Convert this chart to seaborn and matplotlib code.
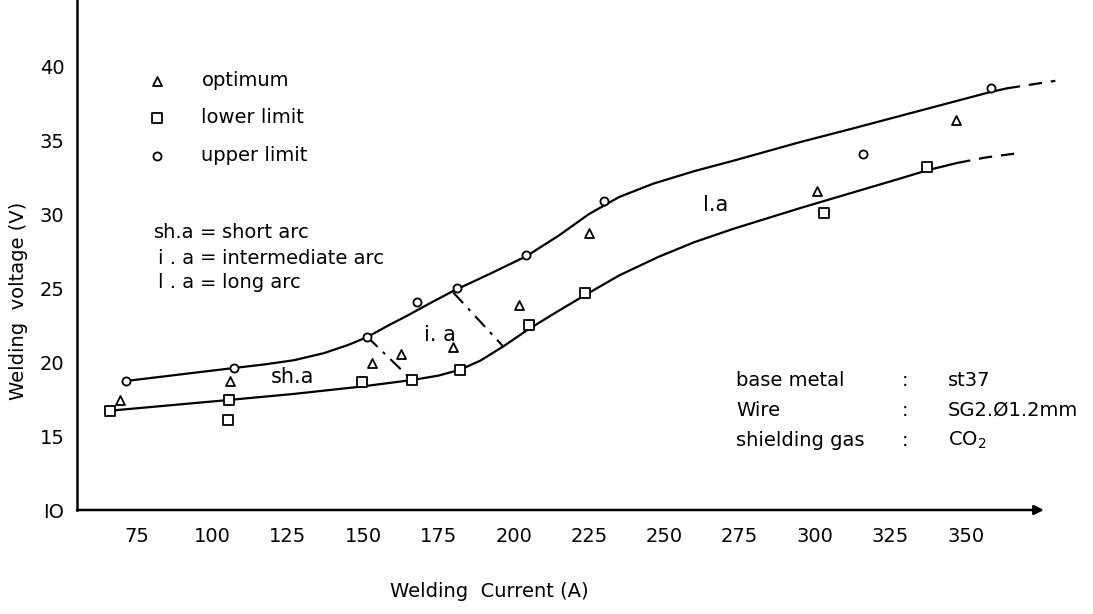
import matplotlib
matplotlib.use("Agg")
import matplotlib.pyplot as plt
import seaborn as sns

# ---- data ----
opt_A = [69.4, 105.9, 152.9, 162.6, 179.8, 201.9, 224.9, 300.7, 346.8]
opt_V = [17.43, 18.72, 19.91, 20.54, 21.0, 23.85, 28.7, 31.57, 36.35]

low_A = [66.0, 105.3, 105.1, 149.6, 166.2, 182.2, 204.9, 223.5, 302.9, 337.2]
low_V = [16.71, 17.43, 16.08, 18.63, 18.78, 19.46, 22.5, 24.64, 30.05, 33.15]

up_A = [71.3, 107.0, 151.3, 167.9, 181.1, 204.2, 229.8, 316.0, 358.4]
up_V = [18.72, 19.61, 21.71, 24.03, 24.98, 27.23, 30.9, 34.03, 38.53]

upper_curve_A = [71.35, 106.9, 117.0, 127.0, 137.0, 145.0, 151.4, 158.0, 165.0,
                 172.0, 179.9, 192.0, 204.2, 215.0, 225.0, 235.0, 246.3, 260.0,
                 272.9, 295.1, 310.7, 358.2, 363.7]
upper_curve_V = [18.72, 19.59, 19.83, 20.12, 20.6, 21.15, 21.69, 22.43, 23.17,
                 23.95, 24.8, 25.95, 27.15, 28.55, 30.0, 31.15, 32.05, 32.9,
                 33.6, 34.86, 35.68, 38.24, 38.49]
upper_ext_A = [363.7, 379.8]
upper_ext_V = [38.49, 39.0]

lower_curve_A = [66.0, 105.2, 126.8, 149.0, 166.2, 175.0, 182.2, 189.0, 196.5,
                 204.8, 214.0, 223.5, 235.0, 248.0, 260.0, 272.9, 295.1, 328.3,
                 337.2, 347.2]
lower_curve_V = [16.71, 17.43, 17.84, 18.33, 18.78, 19.08, 19.48, 20.1, 21.05,
                 22.2, 23.35, 24.5, 25.85, 27.1, 28.1, 29.0, 30.4, 32.4,
                 32.95, 33.45]
lower_ext_A = [347.2, 357.0, 367.1]
lower_ext_V = [33.45, 33.83, 34.1]

bound1_A = [151.3, 166.2]
bound1_V = [21.71, 18.78]
bound2_A = [179.9, 196.5]
bound2_V = [24.7, 21.05]

x_ticks = [75, 100, 125, 150, 175, 200, 225, 250, 275, 300, 325, 350]
y_ticks = [10, 15, 20, 25, 30, 35, 40]
y_ticklabels = ["IO", "15", "20", "25", "30", "35", "40"]

# ---- style ----
sns.set_style("white")
plt.rcParams["font.family"] = ["DejaVu Sans"]
plt.rcParams["text.color"] = "black"
plt.rcParams["axes.labelcolor"] = "black"
plt.rcParams["xtick.color"] = "black"
plt.rcParams["ytick.color"] = "black"

W, H = 1093, 614
fig = plt.figure(figsize=(W / 100, H / 100), dpi=100)
ax = fig.add_axes([77 / W, 104 / H, 994 / W, 510 / H])

lw = 1.6
sns.lineplot(x=upper_curve_A, y=upper_curve_V, color="black", lw=lw, ax=ax, sort=False)
sns.lineplot(x=upper_ext_A, y=upper_ext_V, color="black", lw=lw, ax=ax, sort=False,
             linestyle=(0, (6, 4)))
sns.lineplot(x=lower_curve_A, y=lower_curve_V, color="black", lw=lw, ax=ax, sort=False)
sns.lineplot(x=lower_ext_A, y=lower_ext_V, color="black", lw=lw, ax=ax, sort=False,
             linestyle=(0, (6, 4)))
for bA, bV in [(bound1_A, bound1_V), (bound2_A, bound2_V)]:
    sns.lineplot(x=bA, y=bV, color="black", lw=1.5, ax=ax, sort=False,
                 linestyle=(0, (7, 3.5, 1.5, 3.5)))

mk = dict(color="white", edgecolor="black", linewidth=1.3, zorder=5, ax=ax)
sns.scatterplot(x=opt_A, y=opt_V, marker="^", s=42, label="optimum", **mk)
sns.scatterplot(x=low_A, y=low_V, marker="s", s=48, label="lower limit", **mk)
sns.scatterplot(x=up_A, y=up_V, marker="o", s=34, label="upper limit", **mk)

ax.set_xlim(55, 385)
ax.set_ylim(10, 44.46)
ax.set_xticks(x_ticks)
ax.set_xticklabels([str(t) for t in x_ticks])
ax.set_yticks(y_ticks)
ax.set_yticklabels(y_ticklabels)
ax.tick_params(axis="both", direction="out", length=4, width=1.2, labelsize=14,
               colors="black")
ax.tick_params(axis="x", pad=8)
ax.tick_params(axis="y", pad=5)

for s in ["top", "right", "bottom"]:
    ax.spines[s].set_visible(False)
ax.spines["left"].set_linewidth(1.8)
ax.spines["left"].set_color("black")
ax.annotate("", xy=(376, 10), xytext=(55, 10), xycoords="data",
            arrowprops=dict(arrowstyle="-|>", color="black", lw=1.8,
                            mutation_scale=14, shrinkA=0, shrinkB=0),
            annotation_clip=False)

ax.set_xlabel("Welding  Current (A)", fontsize=14)
ax.set_ylabel("Welding  voltage (V)", fontsize=14)
ax.xaxis.set_label_coords(0.415, -0.141)
ax.yaxis.set_label_coords(-0.049, 0.41)

leg = ax.legend(loc="upper left", bbox_to_anchor=(147 / W, 1 - 71 / H),
                bbox_transform=fig.transFigure, frameon=False, fontsize=14,
                handlelength=1.0, handletextpad=1.8, labelspacing=0.95,
                borderpad=0, borderaxespad=0)

# abbreviations
fs = 14
for y, left, right in [(233, "sh.a", "short arc"),
                       (258, "i . a", "intermediate arc"),
                       (283, "l . a", "long arc")]:
    fig.text(194 / W, 1 - y / H, left, ha="right", va="center", fontsize=fs)
    fig.text(208 / W, 1 - y / H, "=", ha="center", va="center", fontsize=fs)
    fig.text(222 / W, 1 - y / H, right, ha="left", va="center", fontsize=fs)

# region labels
ax.text(126.6, 19.0, "sh.a", ha="center", va="center", fontsize=15)
ax.text(175.6, 21.8, "i. a", ha="center", va="center", fontsize=15)
ax.text(266.9, 30.6, "l.a", ha="center", va="center", fontsize=15)

# conditions block
for y, lab, val in [(380, "base metal", "st37"),
                    (410, "Wire", "SG2.Ø1.2mm"),
                    (440, "shielding gas", "CO$_2$")]:
    fig.text(736 / W, 1 - y / H, lab, ha="left", va="center", fontsize=fs)
    fig.text(905 / W, 1 - y / H, ":", ha="center", va="center", fontsize=fs)
    fig.text(948 / W, 1 - y / H, val, ha="left", va="center", fontsize=fs)

fig.savefig("out.png", dpi=100)
